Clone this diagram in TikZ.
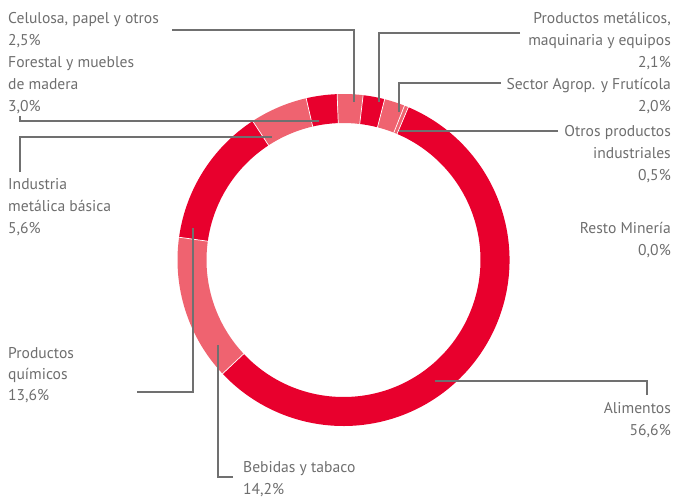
\documentclass[tikz,border=0pt]{standalone}
\usepackage{fontspec}
\setmainfont{PT Sans}
\definecolor{dk}{HTML}{E8002D}
\definecolor{lt}{HTML}{EF6370}
\definecolor{txtgray}{HTML}{6E6E6E}
\definecolor{lngray}{HTML}{707070}
\tikzset{
  lbl/.style={font=\fontsize{15.6}{18}\selectfont, text=txtgray, inner sep=0pt},
  lblL/.style={lbl, anchor=base west},
  lblR/.style={lbl, anchor=base east},
  leader/.style={draw=lngray, line width=1.2pt},
  sep/.style={draw=white, line width=0.7pt}
}
\newcommand{\ringseg}[3]{\fill[#3] (#1:166) arc[start angle=#1, end angle=#2, radius=166] -- (#2:137) arc[start angle=#2, end angle=#1, radius=137] -- cycle;}
\begin{document}
\begin{tikzpicture}[x=1pt,y=1pt]
\useasboundingbox (0,0) rectangle (674,-498);
\begin{scope}[shift={(343.5,-260)}]
  \ringseg{67}{-136.76}{dk}
  \ringseg{-136.76}{-187.88}{lt}
  \ringseg{-187.88}{-236.84}{dk}
  \ringseg{-236.84}{-257.0}{lt}
  \ringseg{-257.0}{-267.8}{dk}
  \ringseg{-267.8}{-276.8}{lt}
  \ringseg{-276.8}{-284.36}{dk}
  \ringseg{-284.36}{-291.56}{lt}
  \ringseg{-291.56}{-293.0}{lt}
  \foreach \a in {67,-136.76,-187.88,-236.84,-257.0,-267.8,-276.8,-284.36,-291.56}
    \draw[sep] (\a:136) -- (\a:167);
\end{scope}

% labels left
\node[lblL] (celA) at (8,-23) {Celulosa, papel y otros};
\node[lblL] (celB) at (8,-45) {2,5\%};
\node[lblL] (forA) at (8,-67) {Forestal y muebles};
\node[lblL] (forB) at (8,-89) {de madera};
\node[lblL] (forC) at (8,-111) {3,0\%};
\node[lblL] (indA) at (8,-189) {Industria};
\node[lblL] (indB) at (8,-211) {metálica básica};
\node[lblL] (indC) at (8,-233) {5,6\%};
\node[lblL] (quiA) at (8,-358) {Productos};
\node[lblL] (quiB) at (8,-379) {químicos};
\node[lblL] (quiC) at (8,-400) {13,6\%};
\node[lblL] (bebA) at (243,-472) {Bebidas y tabaco};
\node[lblL] (bebB) at (243,-494) {14,2\%};
% labels right
\node[lblR] (pmA) at (671,-23) {Productos metálicos,};
\node[lblR] (pmB) at (671,-45) {maquinaria y equipos};
\node[lblR] (pmC) at (671,-67) {2,1\%};
\node[lblR] (agA) at (671,-89) {Sector Agrop. y Frutícola};
\node[lblR] (agB) at (671,-111) {2,0\%};
\node[lblR] (otA) at (671,-136) {Otros productos};
\node[lblR] (otB) at (671,-158) {industriales};
\node[lblR] (otC) at (671,-180) {0,5\%};
\node[lblR] (reA) at (671,-233) {Resto Minería};
\node[lblR] (reB) at (671,-255) {0,0\%};
\node[lblR] (alA) at (671,-413) {Alimentos};
\node[lblR] (alB) at (671,-435) {56,6\%};

% leader coordinates
\coordinate (celS) at (172,-30);
\coordinate (celK) at (354,-30);
\coordinate (celE) at (354,-102);
\coordinate (forS) at (20,-116);
\coordinate (forK) at (20,-121);
\coordinate (forE) at (319,-121);
\coordinate (indS) at (20,-172);
\coordinate (indK) at (20,-137);
\coordinate (indE) at (272,-137);
\coordinate (quiS) at (137,-392);
\coordinate (quiK) at (193,-392);
\coordinate (quiE) at (193,-228);
\coordinate (bebS) at (233,-477);
\coordinate (bebK) at (218,-477);
\coordinate (bebE) at (218,-345);
\coordinate (pmS) at (520,-33);
\coordinate (pmK) at (379,-33);
\coordinate (pmE) at (379,-102);
\coordinate (agS) at (501,-83);
\coordinate (agK) at (399,-83);
\coordinate (agE) at (399,-112);
\coordinate (otS) at (558,-131);
\coordinate (otE) at (399,-131);
\coordinate (alS) at (647,-395);
\coordinate (alK) at (647,-381);
\coordinate (alE) at (435,-381);

\draw[leader] (celS) -- (celK) -- (celE);
\draw[leader] (forS) -- (forK) -- (forE);
\draw[leader] (indS) -- (indK) -- (indE);
\draw[leader] (quiS) -- (quiK) -- (quiE);
\draw[leader] (bebS) -- (bebK) -- (bebE);
\draw[leader] (pmS) -- (pmK) -- (pmE);
\draw[leader] (agS) -- (agK) -- (agE);
\draw[leader] (otS) -- (otE);
\draw[leader] (alS) -- (alK) -- (alE);
\end{tikzpicture}
\end{document}
